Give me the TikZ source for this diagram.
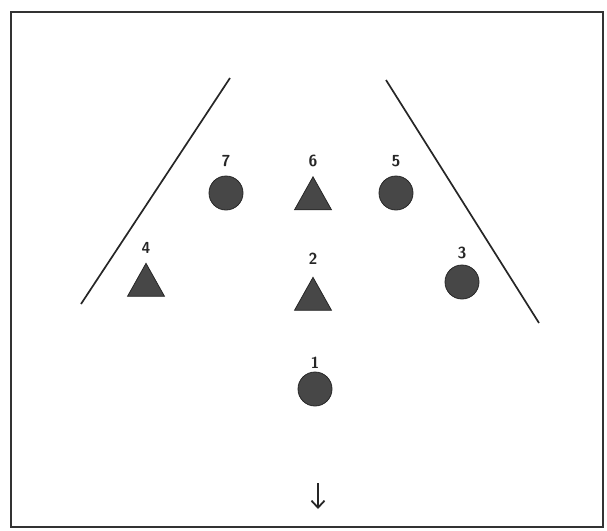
\documentclass[tikz,border=0pt]{standalone}
\usepackage{tikz}
\usetikzlibrary{shapes.geometric, arrows.meta}

\begin{document}
\begin{tikzpicture}[x=1pt, y=-1pt, >={Straight Barb[length=7pt,width=13pt]},
  disc/.style={circle, draw=black!85, fill=black!72, line width=0.8pt, minimum size=34pt, inner sep=0pt},
  cone/.style={isosceles triangle, shape border rotate=90, isosceles triangle apex angle=49,
    isosceles triangle stretches, draw=black!85, fill=black!72, line width=0.8pt,
    minimum width=37pt, minimum height=33pt, inner sep=0pt},
  num/.style={font=\sffamily\bfseries\fontsize{16}{16}\selectfont, text=black!85},
  sideline/.style={line width=1.7pt, black!85}]

  % frame and picture size
  \useasboundingbox (0,0) rectangle (607,530);
  \draw[line width=1.8pt, black!80] (11,12) rectangle (603,527);

  % side lines
  \coordinate (lt) at (230,78);
  \coordinate (lb) at (81,304);
  \coordinate (rt) at (386,80);
  \coordinate (rb) at (539,323);
  \draw[sideline] (lt) -- (lb);
  \draw[sideline] (rt) -- (rb);

  % back row
  \node[disc, label={[num, label distance=5pt]above:7}] (p7) at (226,193) {};
  \node[cone, label={[num, label distance=5pt]above:6}] (p6) at (313,199) {};
  \node[disc, label={[num, label distance=5pt]above:5}] (p5) at (396,193) {};

  % middle row
  \node[cone, label={[num, label distance=5pt]above:4}] (p4) at (146,285.5) {};
  \node[cone, label={[num, label distance=8pt]above:2}] (p2) at (313,299.5) {};
  \node[disc, label={[num, label distance=2pt]above:3}] (p3) at (462,282) {};

  % front
  \node[disc, label={[num, label distance=0pt]above:1}] (p1) at (315,389) {};

  % direction
  \coordinate (dtop) at (318,483);
  \coordinate (dend) at (318,509);
  \draw[->, line width=1.8pt, black!85] (dtop) -- (dend);
\end{tikzpicture}
\end{document}
